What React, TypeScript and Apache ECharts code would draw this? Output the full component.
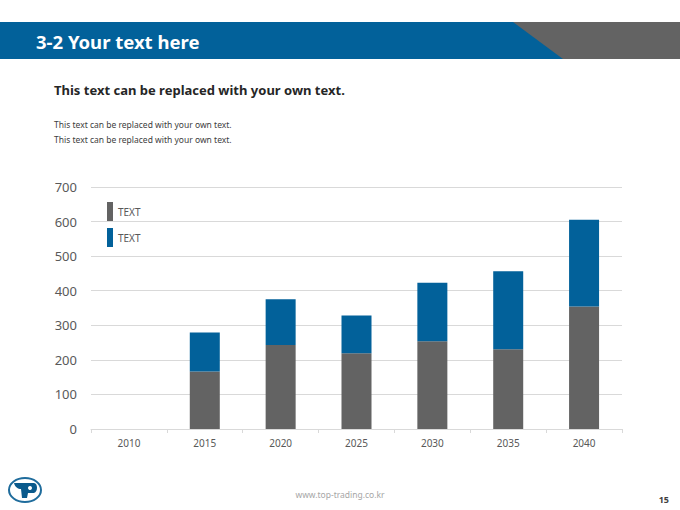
import React, { useEffect, useRef } from "react";
import * as echarts from "echarts";

const years = ["2010", "2015", "2020", "2025", "2030", "2035", "2040"];
const grayValues = [null, 166, 243, 219, 254, 231, 354];
const blueValues = [null, 113, 132, 109, 169, 225, 251];
const legendLabels = ["TEXT", "TEXT"];
const yTicks = { min: 0, max: 700, interval: 100 };

const FONT = "'Noto Sans', 'Open Sans', sans-serif";
const GRAY = "#636363";
const BLUE = "#02619a";

echarts.graphic.registerShape(
  "tlogo",
  echarts.graphic.extendPath(
    "M-11,-6 L9,-6 C13,-6 13,3 9,4 L3,4 L2,9 L-3,9 L-4,0 C-7,0 -10,-2 -11,-6 Z",
    {}
  ) as any
);

export default function App() {
  const ref = useRef<HTMLDivElement>(null);
  useEffect(() => {
    if (!ref.current) return;
    const chart = echarts.init(ref.current, undefined, { renderer: "svg" });
    chart.setOption({
      animation: false,
      backgroundColor: "#ffffff",
      textStyle: { fontFamily: FONT },
      grid: { left: 91, right: 58, top: 187, bottom: 81 },
      legend: {
        orient: "vertical",
        left: 102,
        top: 197,
        itemWidth: 6,
        itemHeight: 19,
        itemGap: 7,
        icon: "rect",
        data: ["A", "B"],
        formatter: (n: string) => (n === "A" ? legendLabels[0] : legendLabels[1]),
        textStyle: { fontSize: 10, color: "#595959", fontFamily: FONT },
      },
      xAxis: {
        type: "category",
        data: years,
        axisLine: { lineStyle: { color: "#d9d9d9" } },
        axisTick: { show: true, length: 4, lineStyle: { color: "#d9d9d9" } },
        axisLabel: { fontSize: 10, color: "#595959", margin: 9, fontFamily: FONT },
      },
      yAxis: {
        type: "value",
        min: yTicks.min,
        max: yTicks.max,
        interval: yTicks.interval,
        axisLine: { show: false },
        axisTick: { show: false },
        splitLine: { lineStyle: { color: "#d9d9d9" } },
        axisLabel: { fontSize: 13, color: "#595959", margin: 14, fontFamily: FONT },
      },
      series: [
        {
          name: "A",
          type: "bar",
          stack: "s",
          barWidth: 30,
          data: grayValues,
          itemStyle: { color: GRAY },
        },
        {
          name: "B",
          type: "bar",
          stack: "s",
          barWidth: 30,
          data: blueValues,
          itemStyle: { color: BLUE },
        },
      ],
      graphic: [
        { type: "rect", shape: { x: 0, y: 22, width: 570, height: 37 }, style: { fill: BLUE } },
        {
          type: "polygon",
          shape: { points: [[513, 22], [680, 22], [680, 59], [563, 59]] },
          style: { fill: GRAY },
        },
        {
          type: "text",
          x: 36,
          y: 41,
          style: {
            text: "3-2 Your text here",
            fill: "#ffffff",
            fontSize: 18.5,
            fontWeight: "bold",
            fontFamily: FONT,
            verticalAlign: "middle",
          },
        },
        {
          type: "text",
          x: 54,
          y: 90,
          style: {
            text: "This text can be replaced with your own text.",
            fill: "#262626",
            fontSize: 13,
            fontWeight: "bold",
            fontFamily: FONT,
            verticalAlign: "middle",
          },
        },
        {
          type: "text",
          x: 54,
          y: 124,
          style: {
            text: "This text can be replaced with your own text.",
            fill: "#404040",
            fontSize: 8.5,
            fontFamily: FONT,
            verticalAlign: "middle",
          },
        },
        {
          type: "text",
          x: 54,
          y: 139,
          style: {
            text: "This text can be replaced with your own text.",
            fill: "#404040",
            fontSize: 8.5,
            fontFamily: FONT,
            verticalAlign: "middle",
          },
        },
        {
          type: "text",
          x: 340,
          y: 494,
          style: {
            text: "www.top-trading.co.kr",
            fill: "#a6a6a6",
            fontSize: 8.5,
            fontFamily: FONT,
            align: "center",
            verticalAlign: "middle",
          },
        },
        {
          type: "text",
          x: 669,
          y: 499,
          style: {
            text: "15",
            fill: "#404040",
            fontSize: 9,
            fontWeight: "bold",
            fontFamily: FONT,
            align: "right",
            verticalAlign: "middle",
          },
        },
        {
          type: "ellipse",
          shape: { cx: 25, cy: 490, rx: 16, ry: 12 },
          style: { fill: "#ffffff", stroke: "#1f6c9c", lineWidth: 2 },
        },
        {
          type: "tlogo",
          x: 25,
          y: 489,
          scaleX: 1,
          scaleY: 1,
          style: { fill: "#0a5a8c" },
        },
        {
          type: "circle",
          shape: { cx: 30, cy: 488, r: 2 },
          style: { fill: "#ffffff" },
        },
      ],
    });
    return () => chart.dispose();
  }, []);
  return (
    <div
      ref={ref}
      style={{ position: "fixed", left: 0, top: 0, width: 680, height: 510 }}
    />
  );
}
